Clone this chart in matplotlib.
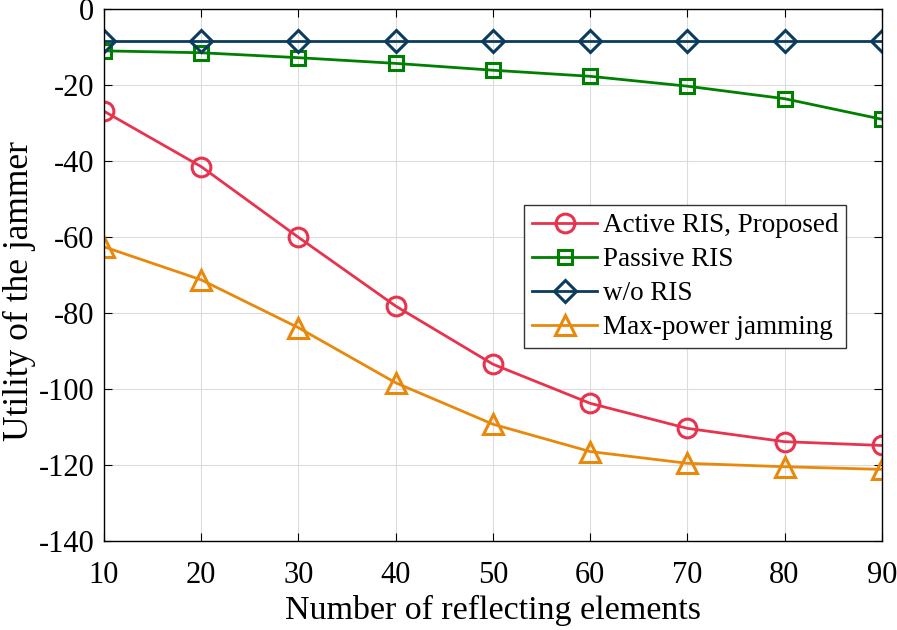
import numpy as np
import matplotlib.pyplot as plt

####################################
#               Data               #
####################################

n_elements = [10, 20, 30, 40, 50, 60, 70, 80, 90]
active_ris = [-26.8, -41.4, -60.0, -78.1, -93.4, -103.7, -110.3, -113.8, -114.8]
passive_ris = [-10.9, -11.4, -12.7, -14.2, -16.0, -17.6, -20.2, -23.5, -28.9]
without_ris = [-8.3, -8.3, -8.3, -8.3, -8.3, -8.3, -8.3, -8.3, -8.3]
max_power = [-62.5, -71.2, -83.8, -98.3, -109.2, -116.4, -119.5, -120.4, -121.1]

####################################
#               Plot               #
####################################

plt.rcParams['font.family'] = ['Liberation Serif', 'DejaVu Serif']
plt.rcParams['axes.unicode_minus'] = False

fig = plt.figure(figsize=(8.97, 6.3), dpi=100)
ax = fig.add_axes([0.116, 0.141, 0.867, 0.844])

lw = 2.0
ax.plot(n_elements, active_ris, color='#E8334F', lw=lw, marker='o', ms=13.5,
        mfc='none', mew=2.2, label='Active RIS, Proposed')
ax.plot(n_elements, passive_ris, color='#008000', lw=lw, marker='s', ms=9.5,
        mfc='none', mew=2.2, label='Passive RIS')
ax.plot(n_elements, without_ris, color='#0B3C5D', lw=lw, marker='D', ms=11,
        mfc='none', mew=2.2, label='w/o RIS')
ax.plot(n_elements, max_power, color='#E8890C', lw=lw, marker='^', ms=14,
        mfc='none', mew=2.2, label='Max-power jamming')

ax.set_xlim(10, 90)
ax.set_ylim(-140, 0)
ax.set_xticks(np.arange(10, 91, 10))
ax.set_yticks(np.arange(-140, 1, 20))
ax.tick_params(direction='in', top=True, right=True, labelsize=22, length=5.5)
ax.tick_params(axis='x', pad=14.5)
ax.tick_params(axis='y', pad=7)
ax.grid(True, color='#dcdcdc', lw=0.8)
ax.set_axisbelow(True)
for s in ax.spines.values():
    s.set_linewidth(1.0)

ax.set_xlabel('Number of reflecting elements', fontsize=24.5, labelpad=3.5)
ax.set_ylabel('Utility of the jammer', fontsize=25.5)
ax.yaxis.set_label_coords(-0.0875, 0.47)

leg = ax.legend(loc='upper left', bbox_to_anchor=(0.540, 0.632), fontsize=19.5,
                handlelength=2.4, handletextpad=0.2, borderpad=0.3,
                labelspacing=0.33, fancybox=False, framealpha=1,
                edgecolor='#333333', borderaxespad=0)
leg.get_frame().set_linewidth(1.0)

plt.savefig('out.png', dpi=100)
